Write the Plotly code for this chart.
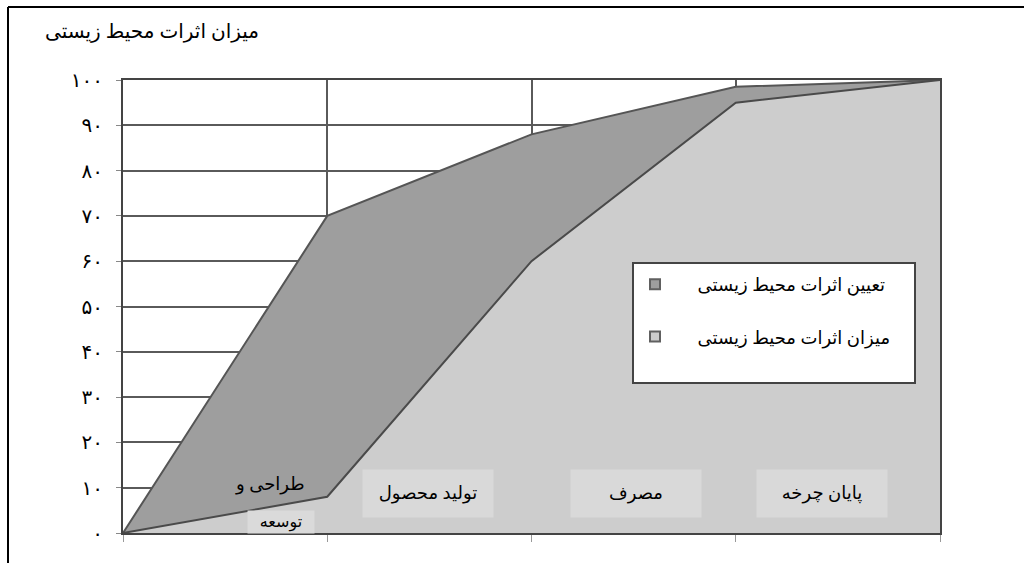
import plotly.graph_objects as go

# ---- data ----
x_pos = [0, 1, 2, 3, 4]
determine_vals = [0, 70, 88, 98.5, 100]   # تعیین اثرات محیط زیستی
amount_vals = [0, 8, 60, 95, 100]         # میزان اثرات محیط زیستی
series_names = ["تعیین اثرات محیط زیستی", "میزان اثرات محیط زیستی"]
y_tickvals = [0, 10, 20, 30, 40, 50, 60, 70, 80, 90, 100]
y_ticktext = ["۰", "۱۰", "۲۰", "۳۰", "۴۰", "۵۰", "۶۰", "۷۰", "۸۰", "۹۰", "۱۰۰"]
stage_labels = ["طراحی و", "توسعه", "تولید محصول", "مصرف", "پایان چرخه"]
title_text = "میزان اثرات محیط زیستی"

FONT = "Liberation Serif, DejaVu Sans, serif"
DARK = "#9e9e9e"
LIGHT = "#cdcdcd"

# plot area in pixels
L, R, T, B = 123, 940, 80, 533
W, H = 1024, 563
def px(xp):
    return (xp - L) / (R - L)
def py(yp):
    return (B - yp) / (B - T)

fig = go.Figure()
fig.add_trace(go.Scatter(x=x_pos, y=determine_vals, mode="lines", fill="tozeroy",
                         fillcolor=DARK, line=dict(color="#555555", width=2),
                         showlegend=False, hoverinfo="skip"))
fig.add_trace(go.Scatter(x=x_pos, y=amount_vals, mode="lines", fill="tozeroy",
                         fillcolor=LIGHT, line=dict(color="#4a4a4a", width=2),
                         showlegend=False, hoverinfo="skip"))
# legend entries
nb = "\u00a0" * 5
for name, col, grp in [(series_names[0], DARK, "a"), (series_names[1], LIGHT, "b")]:
    fig.add_trace(go.Scatter(x=[None], y=[None], mode="markers", name=nb + name,
                             legendgroup=grp,
                             marker=dict(symbol="square", size=10, color=col,
                                         line=dict(color="#606060", width=2))))

annos = []
annos.append(dict(x=px(152), y=py(32), xref="paper", yref="paper", text=title_text,
                  xanchor="center", yanchor="middle", showarrow=False,
                  font=dict(size=20, color="black", family=FONT)))
# stage labels
annos.append(dict(x=0.72, y=10.8, xref="x", yref="y", text=stage_labels[0], showarrow=False,
                  font=dict(size=18, color="black", family=FONT)))
annos.append(dict(x=0.775, y=2.5, xref="x", yref="y", text=stage_labels[1], showarrow=False,
                  bgcolor="#dadada", width=64, height=20,
                  font=dict(size=16, color="black", family=FONT)))
for lab, cx in [(stage_labels[2], 428), (stage_labels[3], 636), (stage_labels[4], 822)]:
    annos.append(dict(x=(cx - L) / 204.25, y=8.8, xref="x", yref="y", text=lab, showarrow=False,
                      bgcolor="#d9d9d9", width=128, height=45,
                      font=dict(size=18, color="black", family=FONT)))

shapes = [
    # legend box
    dict(type="rect", xref="paper", yref="paper", x0=px(633), x1=px(915), y0=py(383), y1=py(263),
         fillcolor="white", line=dict(color="#444444", width=2), layer="above"),
    # outer frame (left and top)
    dict(type="line", xref="paper", yref="paper", x0=px(8), x1=px(8), y0=py(W), y1=py(7),
         line=dict(color="black", width=2)),
    dict(type="line", xref="paper", yref="paper", x0=px(8), x1=px(1100), y0=py(7), y1=py(7),
         line=dict(color="black", width=2)),
]

fig.update_layout(
    width=W, height=H,
    margin=dict(l=L, r=W - R, t=T, b=H - B),
    paper_bgcolor="white", plot_bgcolor="white",
    font=dict(family=FONT, size=16, color="black"),
    showlegend=True,
    legend=dict(x=px(635), y=py(266), xanchor="left", yanchor="top",
                bgcolor="rgba(0,0,0,0)", borderwidth=0,
                traceorder="grouped", tracegroupgap=26,
                font=dict(size=18, family=FONT, color="black")),
    annotations=annos, shapes=shapes,
)
fig.update_xaxes(range=[0, 4], tickvals=x_pos, showticklabels=False,
                 showgrid=True, gridcolor="#5a5a5a", gridwidth=1.5,
                 showline=True, linecolor="#444444", linewidth=2, mirror=True,
                 ticks="outside", ticklen=7, tickcolor="#999999", zeroline=False,
                 fixedrange=True)
fig.update_yaxes(range=[0, 100], tickvals=y_tickvals, ticktext=y_ticktext,
                 showgrid=True, gridcolor="#5a5a5a", gridwidth=1.5,
                 showline=True, linecolor="#444444", linewidth=2, mirror=True,
                 ticks="outside", ticklen=5, tickcolor="#888888", zeroline=False,
                 ticklabelstandoff=9, tickfont=dict(size=20, family=FONT, color="black"),
                 fixedrange=True)

fig.write_html("out.html")
